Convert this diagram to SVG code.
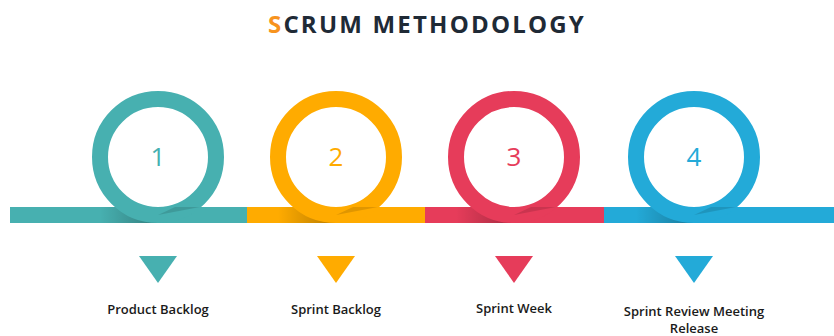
<svg xmlns="http://www.w3.org/2000/svg" width="834" height="336" viewBox="0 0 834 336">
<defs>
<style>
.num{font-family:"Open Sans","Liberation Sans",sans-serif;font-size:26px;text-anchor:middle}
.lbl{font-family:"Open Sans","Liberation Sans",sans-serif;font-size:13px;font-weight:600;fill:#1a1a1a;text-anchor:middle}
.ring{fill:none;stroke-width:16}
</style>
<linearGradient id="sh" x1="0" y1="0" x2="1" y2="0">
<stop offset="0" stop-color="#000" stop-opacity="0"/>
<stop offset="1" stop-color="#000" stop-opacity="0.28"/>
</linearGradient>
</defs>
<rect width="834" height="336" fill="#fff"/>
<text x="427" y="33" text-anchor="middle" font-family="'Open Sans','Liberation Sans',sans-serif" font-size="24" font-weight="700" letter-spacing="2.2" fill="#1f2a36"><tspan fill="#f7931e">S</tspan>CRUM METHODOLOGY</text>
<g id="connectors">
<rect x="10" y="207" width="237" height="16" fill="#47b0b0"/>
<rect x="247" y="207" width="178" height="16" fill="#ffab00"/>
<rect x="425" y="207" width="179" height="16" fill="#e63c5a"/>
<rect x="604" y="207" width="230" height="16" fill="#23aad8"/>
</g>
<g id="node1">
<rect x="100" y="207" width="58" height="16" fill="url(#sh)"/>
<circle class="ring" cx="158" cy="157" r="58" stroke="#47b0b0"/>
<path d="M158 215 L200 207 L175 207 Z" fill="#000" opacity="0.12"/>
<text class="num" x="158" y="166" fill="#47b0b0">1</text>
<polygon points="139,256 177,256 158,283" fill="#47b0b0"/>
<text class="lbl" x="158" y="314">Product Backlog</text>
</g>
<g id="node2">
<rect x="278" y="207" width="58" height="16" fill="url(#sh)"/>
<circle class="ring" cx="336" cy="157" r="58" stroke="#ffab00"/>
<path d="M336 215 L378 207 L353 207 Z" fill="#000" opacity="0.12"/>
<text class="num" x="336" y="166" fill="#ffab00">2</text>
<polygon points="317,256 355,256 336,283" fill="#ffab00"/>
<text class="lbl" x="336" y="314">Sprint Backlog</text>
</g>
<g id="node3">
<rect x="456" y="207" width="58" height="16" fill="url(#sh)"/>
<circle class="ring" cx="514" cy="157" r="58" stroke="#e63c5a"/>
<path d="M514 215 L556 207 L531 207 Z" fill="#000" opacity="0.12"/>
<text class="num" x="514" y="166" fill="#e63c5a">3</text>
<polygon points="495,256 533,256 514,283" fill="#e63c5a"/>
<text class="lbl" x="514" y="313">Sprint Week</text>
</g>
<g id="node4">
<rect x="636" y="207" width="58" height="16" fill="url(#sh)"/>
<circle class="ring" cx="694" cy="157" r="58" stroke="#23aad8"/>
<path d="M694 215 L736 207 L711 207 Z" fill="#000" opacity="0.12"/>
<text class="num" x="694" y="166" fill="#23aad8">4</text>
<polygon points="675,256 713,256 694,283" fill="#23aad8"/>
<text class="lbl" x="694" y="316">Sprint Review Meeting</text>
<text class="lbl" x="694" y="333">Release</text>
</g>
</svg>
